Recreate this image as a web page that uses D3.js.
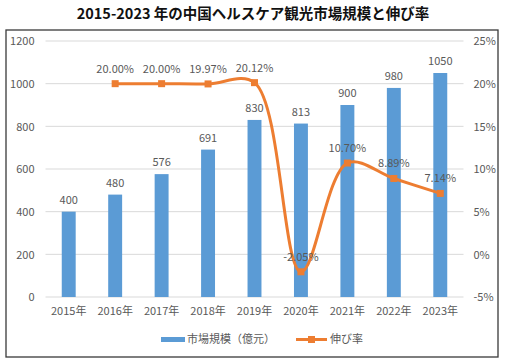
<!DOCTYPE html>
<html><head><meta charset="utf-8">
<script src="https://cdn.jsdelivr.net/npm/d3@7"></script>
<style>
body{margin:0;background:#fff;}
text{font-family:"Noto Sans CJK JP","Noto Sans",sans-serif;}
</style></head>
<body><svg id="c" width="507" height="363"></svg>
<script>
const years = ["2015年","2016年","2017年","2018年","2019年","2020年","2021年","2022年","2023年"];
const marketSize = [400,480,576,691,830,813,900,980,1050];
const growth = [null,20.00,20.00,19.97,20.12,-2.05,10.70,8.89,7.14];
const growthLabels = [null,"20.00%","20.00%","19.97%","20.12%","-2.05%","10.70%","8.89%","7.14%"];
const leftTicks = [0,200,400,600,800,1000,1200];
const rightTicks = [-5,0,5,10,15,20,25];
const title = "2015-2023 年の中国ヘルスケア観光市場規模と伸び率";
const legendLabels = ["市場規模（億元）","伸び率"];

const svg = d3.select("#c");
const blue = "#5B9BD5", orange = "#ED7D31", grey = "#595959";
const L = 45.5, R = 463.5, T = 41, B = 297;

svg.append("rect").attr("x",6).attr("y",30).attr("width",492).attr("height",327)
  .attr("fill","#fff").attr("stroke","#3a3a3a").attr("stroke-width",1.3);

svg.append("text").attr("x",253).attr("y",19).attr("text-anchor","middle")
  .attr("font-size",14.5).attr("font-weight","bold").attr("fill","#111").text(title);

const x = d3.scaleBand().domain(years).range([L,R]).paddingInner(0.7).paddingOuter(0.35);
const yL = d3.scaleLinear().domain([0,1200]).range([B,T]);
const yR = d3.scaleLinear().domain([-5,25]).range([B,T]);

// gridlines
svg.append("g").selectAll("line").data(leftTicks).join("line")
  .attr("x1",L).attr("x2",R).attr("y1",d=>yL(d)).attr("y2",d=>yL(d))
  .attr("stroke","#d9d9d9").attr("stroke-width",1);

// left axis
const gl = svg.append("g").attr("transform",`translate(${L-11},0)`)
  .call(d3.axisLeft(yL).tickValues(leftTicks).tickSize(0).tickPadding(0).tickFormat(d3.format("d")));
gl.select(".domain").remove();
gl.selectAll("text").attr("font-size",11).attr("fill",grey).attr("dy","0.35em");

// right axis
const gr = svg.append("g").attr("transform",`translate(${R+10},0)`)
  .call(d3.axisRight(yR).tickValues(rightTicks).tickSize(0).tickPadding(0).tickFormat(d=>d+"%"));
gr.select(".domain").remove();
gr.selectAll("text").attr("font-size",11).attr("fill",grey).attr("dy","0.35em");

// x axis labels
const gx = svg.append("g").attr("transform",`translate(0,${B+8})`)
  .call(d3.axisBottom(x).tickSize(0).tickPadding(0));
gx.select(".domain").remove();
gx.selectAll("text").attr("font-size",11).attr("fill",grey).attr("dy","0.9em");

// bars
svg.append("g").selectAll("rect").data(marketSize).join("rect")
  .attr("x",(d,i)=>x(years[i])).attr("width",x.bandwidth())
  .attr("y",d=>yL(d)).attr("height",d=>B-yL(d)).attr("fill",blue);
svg.append("g").selectAll("text").data(marketSize).join("text")
  .attr("x",(d,i)=>x(years[i])+x.bandwidth()/2).attr("y",d=>yL(d)-8)
  .attr("text-anchor","middle").attr("font-size",11).attr("fill",grey).text(d=>d);

// line
const pts = growth.map((g,i)=>({g,i})).filter(d=>d.g!==null);
const cx = d=>x(years[d.i])+x.bandwidth()/2;
const line = d3.line().x(cx).y(d=>yR(d.g)).curve(d3.curveCatmullRom.alpha(0.5));
svg.append("path").datum(pts).attr("d",line).attr("fill","none")
  .attr("stroke",orange).attr("stroke-width",3);
svg.append("g").selectAll("rect").data(pts).join("rect")
  .attr("x",d=>cx(d)-3.5).attr("y",d=>yR(d.g)-3.5).attr("width",7).attr("height",7).attr("fill",orange);
svg.append("g").selectAll("text").data(pts).join("text")
  .attr("x",cx).attr("y",d=>yR(d.g)-11)
  .attr("text-anchor","middle").attr("font-size",11).attr("fill",grey).text(d=>growthLabels[d.i]);

// legend
const lg = svg.append("g");
lg.append("rect").attr("x",161).attr("y",337).attr("width",24).attr("height",5).attr("fill",blue);
lg.append("text").attr("x",187).attr("y",343).attr("font-size",11).attr("fill",grey).text(legendLabels[0]);
lg.append("line").attr("x1",296).attr("x2",327).attr("y1",339.5).attr("y2",339.5).attr("stroke",orange).attr("stroke-width",3);
lg.append("rect").attr("x",308).attr("y",336).attr("width",7).attr("height",7).attr("fill",orange);
lg.append("text").attr("x",330).attr("y",343).attr("font-size",11).attr("fill",grey).text(legendLabels[1]);
</script></body></html>
